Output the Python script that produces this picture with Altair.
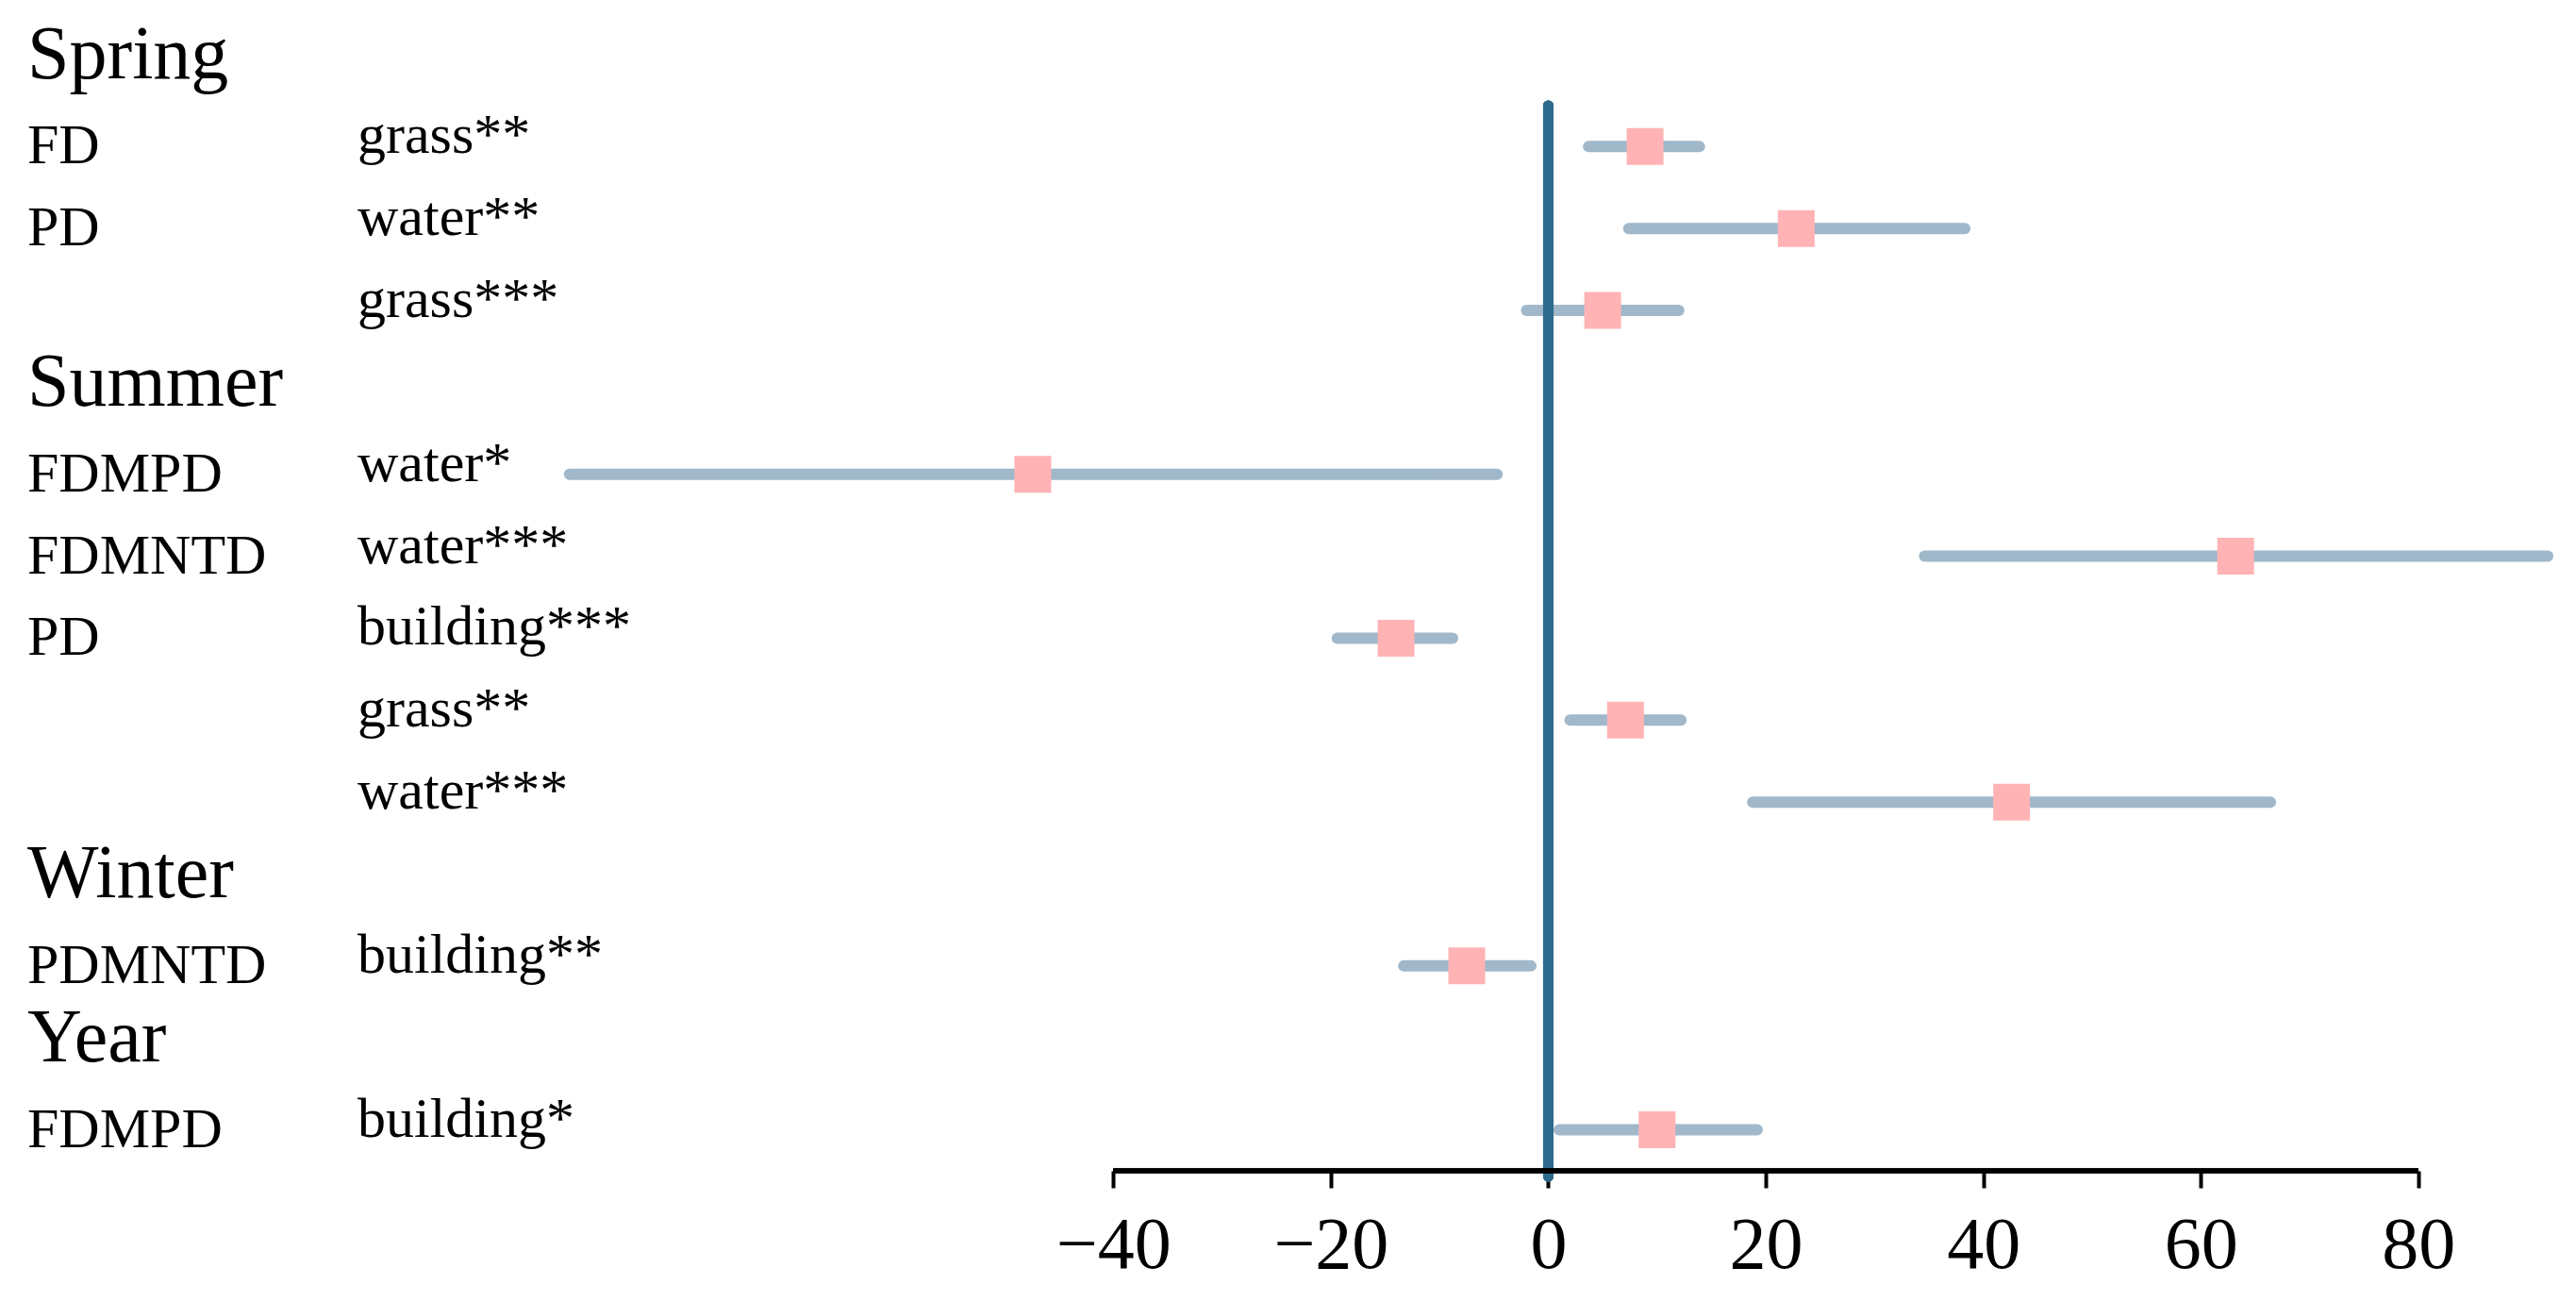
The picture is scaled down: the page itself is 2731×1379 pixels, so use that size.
import altair as alt
import pandas as pd

# ---- data ----
seasons = ["Spring", "Summer", "Winter", "Year"]
season_of = ["Spring", "Spring", "Spring", "Summer", "Summer", "Summer",
             "Summer", "Summer", "Winter", "Year"]
metric = ["FD", "PD", "", "FDMPD", "FDMNTD", "PD", "", "", "PDMNTD", "FDMPD"]
cover = ["grass**", "water**", "grass***", "water*", "water***", "building***",
         "grass**", "water***", "building**", "building*"]
estimate = [8.9, 22.8, 5.0, -47.4, 63.2, -14.0, 7.1, 42.6, -7.5, 10.0]
ci_low = [3.7, 7.4, -2.0, -90.0, 34.6, -19.4, 2.0, 18.8, -13.3, 1.0]
ci_high = [13.9, 38.3, 12.0, -4.7, 91.9, -8.8, 12.2, 66.4, -1.6, 19.2]
tick_values = [-40, -20, 0, 20, 40, 60, 80]

# ---- build tables (row order: season heading, then its entries) ----
head_rows, entry_rows = [], []
r = 0
for s in seasons:
    head_rows.append({"label": s, "row": r})
    r += 1
    for i, so in enumerate(season_of):
        if so == s:
            entry_rows.append({"metric": metric[i], "cover": cover[i],
                               "est": estimate[i], "lo": ci_low[i],
                               "hi": ci_high[i], "row": r})
            r += 1
heads = pd.DataFrame(head_rows)
entries = pd.DataFrame(entry_rows)

W, H = 2170, 1233
FONT = "Liberation Serif"
xscale = alt.Scale(domain=[-94.84, 93.37], nice=False, zero=False)
yscale = alt.Scale(domain=[-0.6966, 13.5], reverse=True, nice=False, zero=False)

base = alt.Chart(entries)

bars = base.mark_rule(strokeWidth=12, strokeCap="round", color="#A0B8CA").encode(
    x=alt.X("lo:Q", scale=xscale,
            axis=alt.Axis(values=tick_values, title="", domain=False, grid=False,
                          tickSize=18, tickWidth=4, tickColor="black",
                          labelFont=FONT, labelFontSize=78, labelColor="black",
                          labelPadding=22)),
    x2="hi:Q",
    y=alt.Y("row:Q", scale=yscale, axis=None),
)

zero_line = alt.Chart(heads).mark_rule(
    strokeWidth=11, strokeCap="round", color="#2E6A8C"
).encode(
    x=alt.datum(0),
    y=alt.datum(0.5),
    y2=alt.value(H + 6),
)

squares = base.mark_square(size=1521, color="#FFB3B5", opacity=1, strokeWidth=0).encode(
    x=alt.X("est:Q", scale=xscale),
    y=alt.Y("row:Q", scale=yscale),
)

axis_line = alt.Chart(heads).mark_rule(strokeWidth=5, color="black").encode(
    x=alt.datum(-40),
    x2=alt.datum(80),
    y=alt.value(H),
)

head_text = alt.Chart(heads).mark_text(
    align="left", baseline="alphabetic", font=FONT, fontSize=80, dy=14, color="black"
).encode(
    x=alt.value(-519),
    y=alt.Y("row:Q", scale=yscale),
    text="label:N",
)

metric_text = base.mark_text(
    align="left", baseline="alphabetic", font=FONT, fontSize=60, dy=18, color="black"
).encode(
    x=alt.value(-519),
    y=alt.Y("row:Q", scale=yscale),
    text="metric:N",
)

cover_text = base.mark_text(
    align="left", baseline="alphabetic", font=FONT, fontSize=60, dy=7, color="black"
).encode(
    x=alt.value(-169),
    y=alt.Y("row:Q", scale=yscale),
    text="cover:N",
)

chart = alt.layer(
    bars, zero_line, squares, axis_line, head_text, metric_text, cover_text
).properties(
    width=W, height=H,
    autosize=alt.AutoSizeParams(type="none"),
    padding={"left": 540, "top": 0, "right": 0, "bottom": 124},
).configure_view(stroke="transparent")

chart.save("out.html", embed_options={"renderer": "svg", "actions": False})
